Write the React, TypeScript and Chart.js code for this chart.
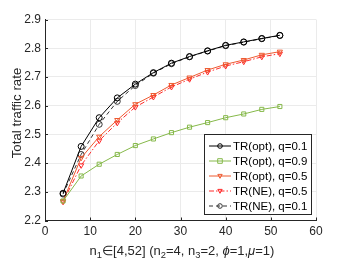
import React, { useEffect, useRef } from "react";
import { Chart, registerables } from "chart.js";

Chart.register(...registerables);

const nValues = [4, 8, 12, 16, 20, 24, 28, 32, 36, 40, 44, 48, 52];
const trOptQ01 = [2.295, 2.458, 2.558, 2.627, 2.675, 2.715, 2.748, 2.771, 2.791, 2.81, 2.822, 2.834, 2.845];
const trOptQ09 = [2.268, 2.355, 2.396, 2.43, 2.461, 2.484, 2.506, 2.525, 2.541, 2.558, 2.571, 2.587, 2.597];
const trOptQ05 = [2.268, 2.418, 2.492, 2.55, 2.605, 2.637, 2.672, 2.698, 2.724, 2.744, 2.759, 2.777, 2.788];
const trNeQ05 = [2.265, 2.392, 2.478, 2.54, 2.595, 2.63, 2.665, 2.692, 2.717, 2.738, 2.753, 2.77, 2.781];
const trNeQ01 = [2.292, 2.43, 2.535, 2.615, 2.67, 2.713, 2.746, 2.77, 2.79, 2.809, 2.821, 2.833, 2.844];
const seriesLabels = [
  "TR(opt), q=0.1",
  "TR(opt), q=0.9",
  "TR(opt), q=0.5",
  "TR(NE), q=0.5",
  "TR(NE), q=0.1",
];
const yAxisTitle = "Total traffic rate";
const xTitleParts: { t: string; sub?: boolean; it?: boolean }[] = [
  { t: "n" }, { t: "1", sub: true }, { t: "\u2208[4,52] (n" }, { t: "2", sub: true },
  { t: "=4, n" }, { t: "3", sub: true }, { t: "=2, " }, { t: "\u03D5", it: true },
  { t: "=1," }, { t: "\u03BC", it: true }, { t: "=1)" },
];

const FONT = "'Liberation Sans', Arial, Helvetica, sans-serif";
const TEXT = "#262626";

type Style = { color: string; dash: number[]; marker: "circle" | "rect" | "tri"; };
const styles: Style[] = [
  { color: "#000000", dash: [], marker: "circle" },
  { color: "#86b94a", dash: [], marker: "rect" },
  { color: "#ee5a30", dash: [], marker: "tri" },
  { color: "#ff2a2a", dash: [5, 2, 1.5, 2], marker: "tri" },
  { color: "#333333", dash: [4, 3], marker: "circle" },
];
const seriesData = [trOptQ01, trOptQ09, trOptQ05, trNeQ05, trNeQ01];

function drawMarker(ctx: CanvasRenderingContext2D, m: Style["marker"], x: number, y: number, r: number) {
  ctx.beginPath();
  if (m === "circle") ctx.arc(x, y, r, 0, Math.PI * 2);
  else if (m === "rect") ctx.rect(x - r, y - r, 2 * r, 2 * r);
  else {
    ctx.moveTo(x, y + r);
    ctx.lineTo(x - r * 0.95, y - r * 0.7);
    ctx.lineTo(x + r * 0.95, y - r * 0.7);
    ctx.closePath();
  }
  ctx.stroke();
}

const decorPlugin = {
  id: "decor",
  afterDraw(chart: any) {
    const ctx: CanvasRenderingContext2D = chart.ctx;
    const { left, bottom } = chart.chartArea;
    const xs = chart.scales.x;
    const ys = chart.scales.y;
    ctx.save();
    // inward ticks
    ctx.strokeStyle = TEXT;
    ctx.lineWidth = 1;
    ctx.setLineDash([]);
    xs.ticks.forEach((t: any) => {
      const px = Math.round(xs.getPixelForValue(t.value)) + 0.5;
      ctx.beginPath();
      ctx.moveTo(px, bottom);
      ctx.lineTo(px, bottom - 3);
      ctx.stroke();
    });
    ys.ticks.forEach((t: any) => {
      const py = Math.round(ys.getPixelForValue(t.value)) + 0.5;
      ctx.beginPath();
      ctx.moveTo(left, py);
      ctx.lineTo(left + 3, py);
      ctx.stroke();
    });

    // legend
    const bx = 204.5, by = 134.5, bw = 107, bh = 80;
    ctx.fillStyle = "#ffffff";
    ctx.fillRect(bx, by, bw, bh);
    ctx.strokeStyle = TEXT;
    ctx.strokeRect(bx, by, bw, bh);
    ctx.font = `11.5px ${FONT}`;
    ctx.textBaseline = "middle";
    ctx.textAlign = "left";
    seriesLabels.forEach((lab, i) => {
      const st = styles[i];
      const y = 146 + i * 15;
      ctx.strokeStyle = st.color;
      ctx.lineWidth = 1;
      ctx.setLineDash(st.dash);
      ctx.beginPath();
      ctx.moveTo(209, y);
      ctx.lineTo(231, y);
      ctx.stroke();
      ctx.setLineDash([]);
      drawMarker(ctx, st.marker, 220, y, 2.3);
      ctx.fillStyle = "#000000";
      ctx.fillText(lab, 233, y + 0.5);
    });

    // y title
    ctx.fillStyle = TEXT;
    ctx.save();
    ctx.translate(17, 113);
    ctx.rotate(-Math.PI / 2);
    ctx.font = `13.3px ${FONT}`;
    ctx.textAlign = "center";
    ctx.textBaseline = "middle";
    ctx.fillText(yAxisTitle, 0, 0);
    ctx.restore();

    // x title
    const base = 13;
    const measure = (p: any) => {
      ctx.font = `${p.it ? "italic " : ""}${p.sub ? base * 0.72 : base}px ${FONT}`;
      return ctx.measureText(p.t).width;
    };
    const total = xTitleParts.reduce((s, p) => s + measure(p), 0);
    let cx = 182 - total / 2;
    ctx.textAlign = "left";
    ctx.textBaseline = "alphabetic";
    xTitleParts.forEach((p) => {
      const w = measure(p);
      ctx.fillText(p.t, cx, p.sub ? 258 : 255);
      cx += w;
    });
    ctx.restore();
  },
};

export default function App() {
  const ref = useRef<HTMLCanvasElement | null>(null);
  useEffect(() => {
    if (!ref.current) return;
    const chart = new Chart(ref.current, {
      type: "line",
      data: {
        datasets: seriesLabels.map((lab, i) => ({
          label: lab,
          data: nValues.map((n, j) => ({ x: n, y: seriesData[i][j] })),
          borderColor: styles[i].color,
          borderWidth: 1,
          borderDash: styles[i].dash,
          pointStyle: styles[i].marker === "circle" ? "circle" : styles[i].marker === "rect" ? "rect" : "triangle",
          rotation: styles[i].marker === "tri" ? 180 : 0,
          pointRadius: styles[i].marker === "rect" ? 2.9 : 3,
          pointBorderWidth: 1,
          pointBorderColor: styles[i].color,
          pointBackgroundColor: "rgba(0,0,0,0)",
          tension: 0,
          fill: false,
        })),
      },
      options: {
        responsive: false,
        animation: false,
        layout: { padding: { left: 0, right: 34, top: 19.5, bottom: 0 } },
        plugins: { legend: { display: false }, tooltip: { enabled: false } },
        scales: {
          x: {
            type: "linear",
            min: 0,
            max: 60,
            ticks: { stepSize: 10, color: TEXT, font: { family: FONT, size: 12 }, padding: 4, maxRotation: 0 },
            grid: { color: "#ebebeb", drawTicks: false },
            border: { color: TEXT, width: 1 },
            afterFit: (s: any) => { s.height = 42.5; },
          },
          y: {
            min: 2.2,
            max: 2.9,
            ticks: {
              stepSize: 0.1,
              color: TEXT,
              font: { family: FONT, size: 12 },
              padding: 4,
              callback: (v: any) => Number(v).toFixed(1),
            },
            grid: { color: "#ebebeb", drawTicks: false },
            border: { color: TEXT, width: 1 },
            afterFit: (s: any) => { s.width = 45; },
          },
        },
      },
      plugins: [decorPlugin],
    });
    return () => chart.destroy();
  }, []);
  return (
    <div style={{ position: "fixed", left: 0, top: 0, width: 350, height: 263, background: "#fff" }}>
      <canvas ref={ref} width={350} height={263} />
    </div>
  );
}
